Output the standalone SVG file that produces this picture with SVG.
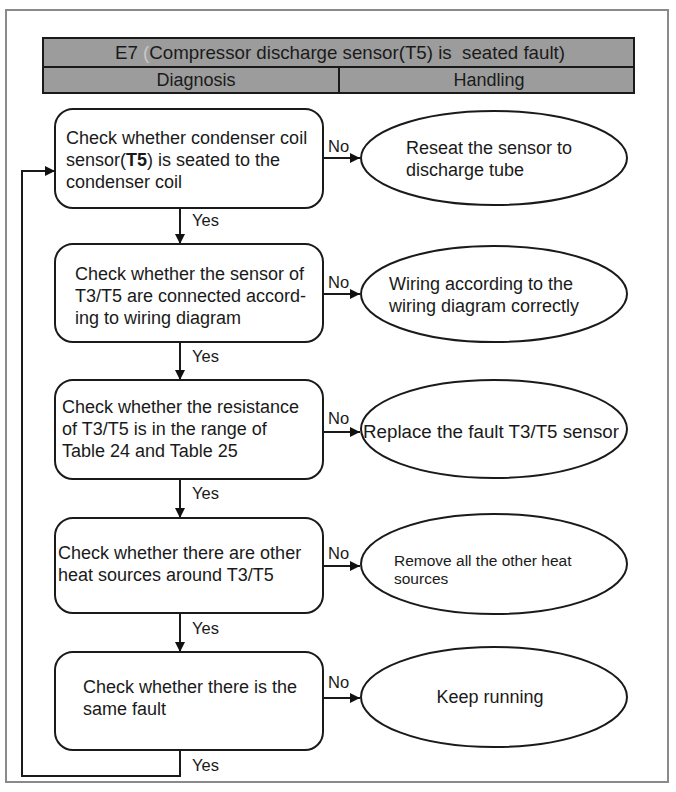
<svg xmlns="http://www.w3.org/2000/svg" width="676" height="792" viewBox="0 0 676 792">
<defs>
<marker id="ah" viewBox="0 0 10 10" refX="10" refY="5" markerWidth="12" markerHeight="10" markerUnits="userSpaceOnUse" orient="auto">
<path d="M0,0 L10,5 L0,10 Z" fill="#111"/>
</marker>
</defs>
<style>
text{font-family:"Liberation Sans",Arial,sans-serif;font-size:18px;fill:#1a1a1a}
.box{fill:#fff;stroke:#1a1a1a;stroke-width:2}
.ell{fill:#fff;stroke:#1a1a1a;stroke-width:2}
.ln{fill:none;stroke:#1a1a1a;stroke-width:2}
.hd{fill:#9c9c9c;stroke:#1a1a1a;stroke-width:2}
.lbl{font-size:16.5px}
.mid{text-anchor:middle}
</style>
<rect x="0" y="0" width="676" height="792" fill="#fff"/>
<rect x="6" y="10" width="662" height="772" fill="#fff" stroke="#8a8a8a" stroke-width="2"/>

<g id="header">
<rect class="hd" x="43" y="38" width="591" height="55"/>
<line class="ln" x1="43" y1="67" x2="634" y2="67"/>
<line class="ln" x1="339" y1="67" x2="339" y2="93"/>
<text x="115" y="59" style="white-space:pre;font-size:18.5px" textLength="450" lengthAdjust="spacingAndGlyphs">E7 <tspan fill="#c8c8c8">(</tspan>Compressor discharge sensor(T5) is  seated fault)</text>
<text x="196" y="86" class="mid">Diagnosis</text>
<text x="489" y="86" class="mid">Handling</text>
</g>

<g id="connectors">
<line class="ln" x1="323" y1="158" x2="360" y2="158" marker-end="url(#ah)"/>
<line class="ln" x1="323" y1="294" x2="360" y2="294" marker-end="url(#ah)"/>
<line class="ln" x1="323" y1="432" x2="360" y2="432" marker-end="url(#ah)"/>
<line class="ln" x1="323" y1="566" x2="360" y2="566" marker-end="url(#ah)"/>
<line class="ln" x1="323" y1="698" x2="360" y2="698" marker-end="url(#ah)"/>
<line class="ln" x1="180" y1="208" x2="180" y2="244" marker-end="url(#ah)"/>
<line class="ln" x1="180" y1="342" x2="180" y2="380" marker-end="url(#ah)"/>
<line class="ln" x1="180" y1="480" x2="180" y2="518" marker-end="url(#ah)"/>
<line class="ln" x1="180" y1="613" x2="180" y2="652" marker-end="url(#ah)"/>
<polyline class="ln" points="180,750 180,776 22,776 22,171 55,171" marker-end="url(#ah)"/>
<text class="lbl" x="328" y="152">No</text>
<text class="lbl" x="328" y="288">No</text>
<text class="lbl" x="328" y="424">No</text>
<text class="lbl" x="328" y="559">No</text>
<text class="lbl" x="328" y="688">No</text>
<text class="lbl" x="192" y="226">Yes</text>
<text class="lbl" x="192" y="362">Yes</text>
<text class="lbl" x="192" y="499">Yes</text>
<text class="lbl" x="192" y="634">Yes</text>
<text class="lbl" x="192" y="771">Yes</text>
</g>

<g id="d1">
<rect class="box" x="55" y="109" width="268" height="99" rx="18"/>
<text x="66" y="144">Check whether condenser coil</text>
<text x="66" y="166">sensor(<tspan font-weight="bold">T5</tspan>) is seated to the</text>
<text x="66" y="188">condenser coil</text>
</g>
<g id="h1">
<ellipse class="ell" cx="494" cy="158" rx="133" ry="47"/>
<text x="406" y="154">Reseat the sensor to</text>
<text x="406" y="176">discharge tube</text>
</g>

<g id="d2">
<rect class="box" x="55" y="244" width="268" height="98" rx="18"/>
<text x="75" y="280">Check whether the sensor of</text>
<text x="75" y="302">T3/T5 are connected accord-</text>
<text x="75" y="324">ing to wiring diagram</text>
</g>
<g id="h2">
<ellipse class="ell" cx="494" cy="294" rx="133" ry="48"/>
<text x="389" y="290">Wiring according to the</text>
<text x="389" y="312">wiring diagram correctly</text>
</g>

<g id="d3">
<rect class="box" x="55" y="380" width="268" height="99" rx="18"/>
<text x="62" y="413">Check whether the resistance</text>
<text x="62" y="435">of T3/T5 is in the range of</text>
<text x="62" y="457">Table 24 and Table 25</text>
</g>
<g id="h3">
<ellipse class="ell" cx="494" cy="429" rx="133" ry="49"/>
<text x="363" y="438" textLength="256" lengthAdjust="spacingAndGlyphs">Replace the fault T3/T5 sensor</text>
</g>

<g id="d4">
<rect class="box" x="55" y="518" width="268" height="95" rx="18"/>
<text x="58" y="559">Check whether there are other</text>
<text x="58" y="581">heat sources around T3/T5</text>
</g>
<g id="h4">
<ellipse class="ell" cx="494" cy="564" rx="133" ry="50"/>
<text x="394" y="566" style="font-size:15.5px">Remove all the other heat</text>
<text x="394" y="584" style="font-size:15.5px">sources</text>
</g>

<g id="d5">
<rect class="box" x="55" y="652" width="268" height="98" rx="18"/>
<text x="83" y="693">Check whether there is the</text>
<text x="83" y="715">same fault</text>
</g>
<g id="h5">
<ellipse class="ell" cx="494" cy="697" rx="133" ry="50"/>
<text x="490" y="703" class="mid">Keep running</text>
</g>
</svg>
